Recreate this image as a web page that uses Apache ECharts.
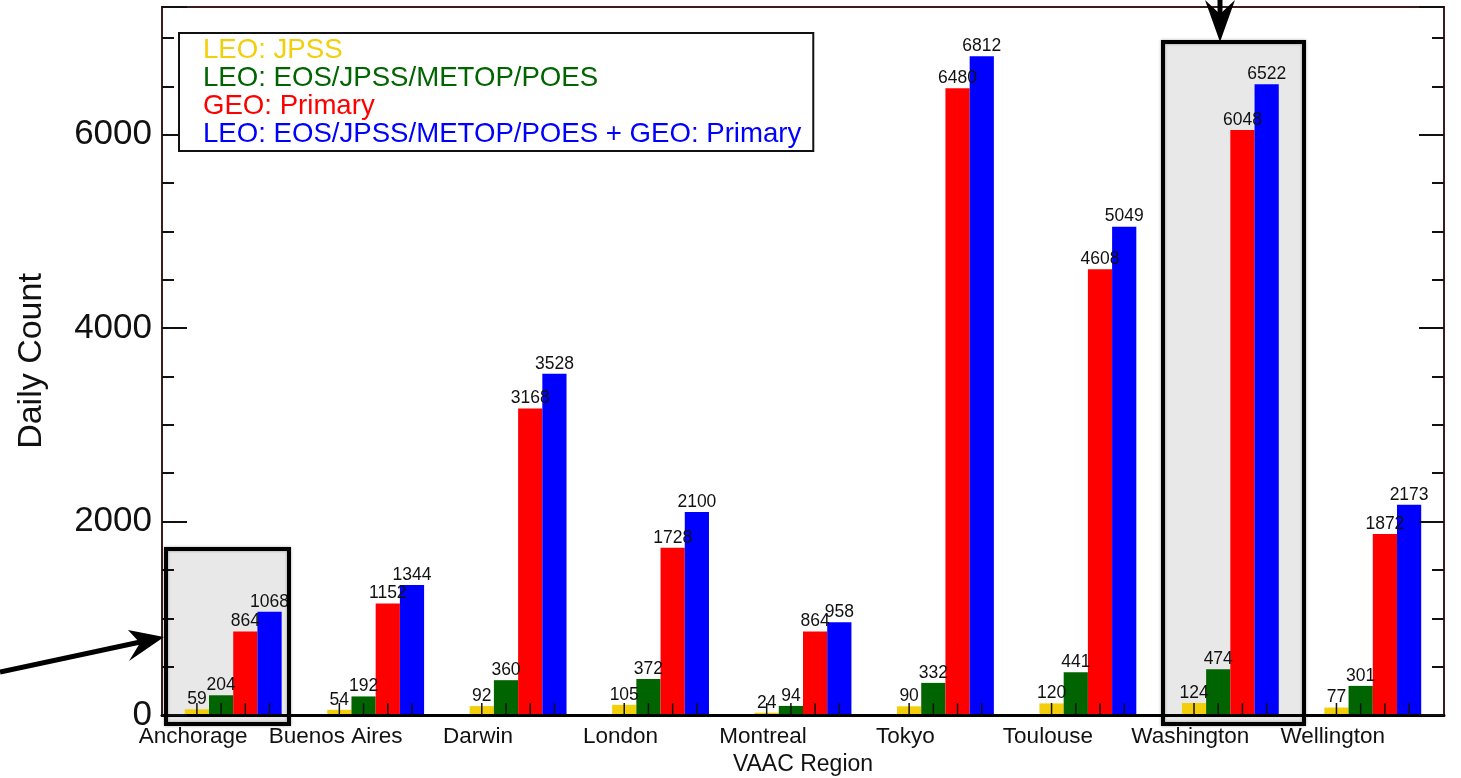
<!DOCTYPE html>
<html>
<head>
<meta charset="utf-8">
<script src="https://cdn.jsdelivr.net/npm/echarts@6/dist/echarts.min.js"></script>
<style>
  html, body { margin: 0; padding: 0; background: #fff; }
  #chart { width: 1461px; height: 778px; }
</style>
</head>
<body>
<div id="chart"></div>
<script>
// VAAC regions
const regions = ['Anchorage', 'Buenos Aires', 'Darwin', 'London', 'Montreal', 'Tokyo', 'Toulouse', 'Washington', 'Wellington'];
// daily counts per product
const leoJpss = [59, 54, 92, 105, 24, 90, 120, 124, 77];
const leoAll = [204, 192, 360, 372, 94, 332, 441, 474, 301];
const geoPrimary = [864, 1152, 3168, 1728, 864, 6480, 4608, 6048, 1872];
const leoGeo = [1068, 1344, 3528, 2100, 958, 6812, 5049, 6522, 2173];
const yTicks = [0, 2000, 4000, 6000];

const names = [
  'LEO: JPSS',
  'LEO: EOS/JPSS/METOP/POES',
  'GEO: Primary',
  'LEO: EOS/JPSS/METOP/POES + GEO: Primary'
];
const colors = ['#f2cf0a', '#006400', '#ff0000', '#0000ff'];
const FONT = '"Liberation Sans", Helvetica, Arial, sans-serif';
const CAT_GAP = 0.32;
const frameColor = '#3a1d1d';

const chartDom = document.getElementById('chart');
const myChart = echarts.init(chartDom, undefined, { renderer: 'canvas' });

const barSeries = [leoJpss, leoAll, geoPrimary, leoGeo].map((vals, i) => ({
  name: names[i],
  type: 'bar',
  data: vals,
  barGap: '0%',
  barCategoryGap: (CAT_GAP * 100) + '%',
  itemStyle: { color: colors[i] },
  z: 3,
  label: {
    show: true,
    position: 'top',
    distance: 1,
    color: '#111',
    fontSize: 17.5,
    fontFamily: FONT
  }
}));

// little ticks at the foot of each bar
const footTicks = {
  type: 'custom',
  silent: true,
  z: 6,
  data: regions.map((r, i) => [i, 0]),
  renderItem: (params, api) => {
    const base = api.coord([api.value(0), 0]);
    const band = api.size([1, 0])[0];
    const bw = band * (1 - CAT_GAP) / 4;
    const children = [-1.5, -0.5, 0.5, 1.5].map((k) => ({
      type: 'line',
      shape: { x1: base[0] + k * bw, y1: base[1], x2: base[0] + k * bw, y2: base[1] - 12 },
      style: { stroke: '#111', lineWidth: 1.5 }
    }));
    return { type: 'group', children };
  }
};

const yAxisCommon = {
  type: 'value',
  min: 0,
  max: 7320,
  interval: 2000,
  z: 5,
  splitLine: { show: false },
  axisLine: { show: true, lineStyle: { color: frameColor, width: 2 } },
  axisTick: { show: true, inside: true, length: 25, lineStyle: { color: '#111', width: 2 } },
  minorTick: { show: true, splitNumber: 4, length: 12, lineStyle: { color: '#111', width: 2 } }
};

const option = {
  animation: false,
  backgroundColor: '#fff',
  textStyle: { fontFamily: FONT },
  grid: {
    left: 162,
    right: 17,
    top: 7,
    bottom: 63,
    outerBoundsMode: 'none',
    show: true,
    borderColor: frameColor,
    borderWidth: 2,
    backgroundColor: 'transparent'
  },
  legend: {
    orient: 'vertical',
    left: 179,
    top: 33,
    padding: [3, 12, 3, 19],
    itemGap: 0,
    itemWidth: 0,
    itemHeight: 10,
    backgroundColor: '#fff',
    borderColor: '#111',
    borderWidth: 2,
    z: 8,
    selectedMode: false,
    data: names.map((n, i) => ({
      name: n,
      icon: 'none',
      textStyle: { color: colors[i], fontSize: 27.6, lineHeight: 26.5, fontFamily: FONT }
    }))
  },
  xAxis: {
    type: 'category',
    data: regions,
    z: 5,
    axisLine: { show: true, lineStyle: { color: '#000', width: 3 } },
    axisTick: { show: false },
    axisLabel: {
      interval: 0,
      color: '#111',
      fontSize: 22.5,
      margin: 10,
      fontFamily: FONT,
      padding: [0, 80, 0, 0]
    },
    name: 'VAAC Region',
    nameLocation: 'middle',
    nameGap: 30,
    nameTextStyle: { color: '#111', fontSize: 23, fontFamily: FONT }
  },
  yAxis: [
    Object.assign({}, yAxisCommon, {
      position: 'left',
      axisLabel: {
        color: '#111',
        fontSize: 35,
        margin: 10,
        fontFamily: FONT,
        showMaxLabel: false,
        formatter: (v) => (yTicks.includes(v) ? String(v) : '')
      },
      name: 'Daily Count',
      nameLocation: 'middle',
      nameGap: 113,
      nameTextStyle: { color: '#111', fontSize: 34, fontFamily: FONT }
    }),
    Object.assign({}, yAxisCommon, {
      position: 'right',
      axisLabel: { show: false }
    })
  ],
  series: [...barSeries, footTicks],
  graphic: [
    // highlighted regions
    { type: 'rect', z: 1, silent: true, shape: { x: 166, y: 549, width: 123, height: 175 }, style: { fill: '#e8e8e8' } },
    { type: 'rect', z: 1, silent: true, shape: { x: 1163, y: 42, width: 141, height: 682 }, style: { fill: '#e8e8e8' } },
    { type: 'rect', z: 20, silent: true, shape: { x: 166, y: 549, width: 123, height: 175 },
      style: { fill: 'none', stroke: '#000', lineWidth: 4, shadowBlur: 3, shadowColor: 'rgba(0,0,0,0.35)' } },
    { type: 'rect', z: 20, silent: true, shape: { x: 1163, y: 42, width: 141, height: 682 },
      style: { fill: 'none', stroke: '#000', lineWidth: 4, shadowBlur: 3, shadowColor: 'rgba(0,0,0,0.35)' } },
    // arrows
    { type: 'line', z: 20, silent: true, shape: { x1: 0, y1: 672, x2: 145, y2: 641 }, style: { stroke: '#000', lineWidth: 5 } },
    { type: 'polygon', z: 20, silent: true, shape: { points: [[164, 637], [128, 630], [140, 643], [129, 661]] }, style: { fill: '#000' } },
    { type: 'line', z: 20, silent: true, shape: { x1: 1220, y1: 0, x2: 1220, y2: 25 }, style: { stroke: '#000', lineWidth: 5 } },
    { type: 'polygon', z: 20, silent: true, shape: { points: [[1220, 42], [1205, 0], [1220, 14], [1235, 0]] }, style: { fill: '#000' } }
  ]
};

myChart.setOption(option);
window.addEventListener('resize', () => {
  myChart.resize();
});
</script>
</body>
</html>
